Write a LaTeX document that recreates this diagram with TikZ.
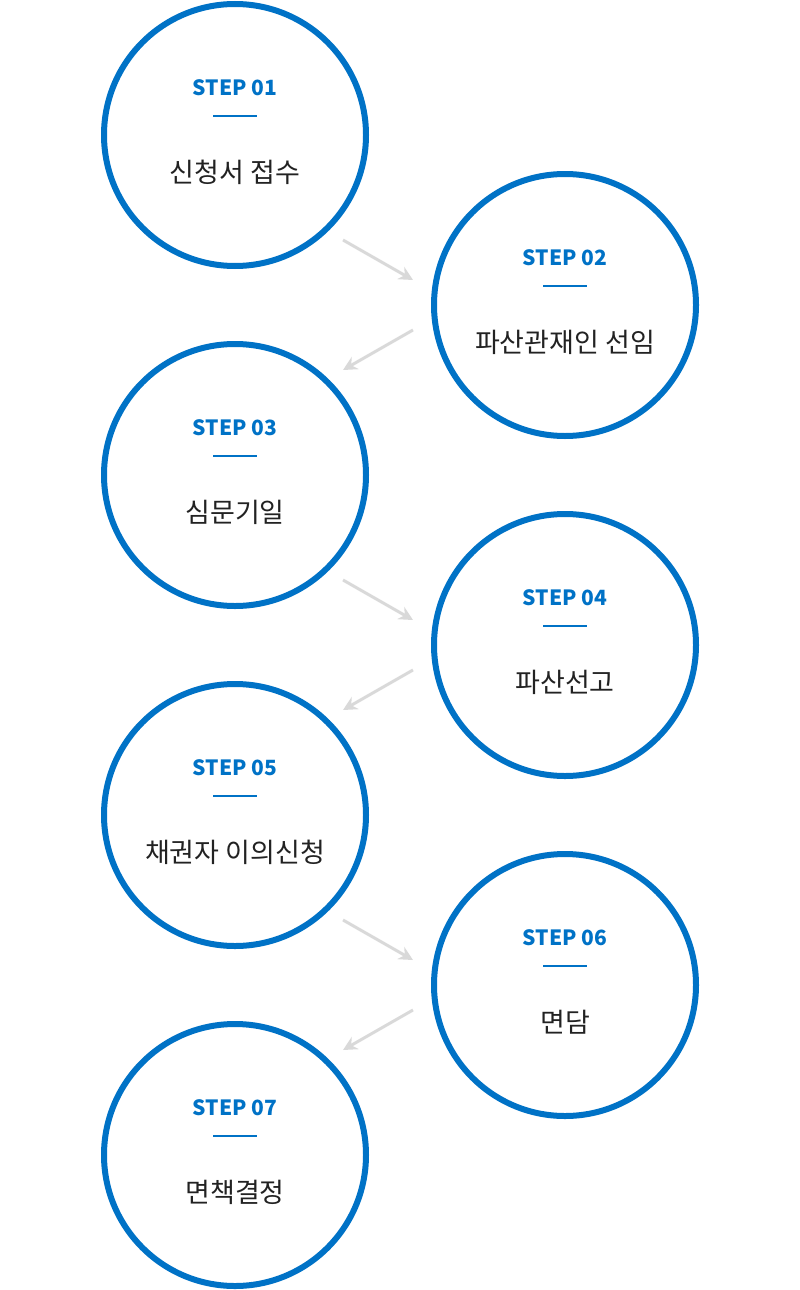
\documentclass[tikz,border=0pt]{standalone}
\usepackage{fontspec}
\setmainfont{Noto Sans CJK KR}
\newfontfamily\stepfont{Noto Sans CJK KR}
\usetikzlibrary{arrows.meta}
\definecolor{stepblue}{HTML}{0072C6}
\definecolor{arrowgray}{HTML}{D9D9D9}
\definecolor{txtdark}{HTML}{222222}
\begin{document}
\begin{tikzpicture}[x=1pt,y=-1pt,
  ring/.style={circle,draw=stepblue,line width=6pt,minimum size=262pt,inner sep=0pt},
  steplbl/.style={text=stepblue,font=\fontsize{21}{21}\selectfont\bfseries},
  title/.style={text=txtdark,font=\fontsize{27}{27}\selectfont},
  flow/.style={draw=arrowgray,line width=3pt,-{Stealth[length=14pt,width=14pt]}}]
\useasboundingbox (0,0) rectangle (800,1290);
\foreach \i/\x/\y/\t in {1/235/135/신청서 접수,2/565/305/파산관재인 선임,3/235/475/심문기일,4/565/645/파산선고,5/235/815/채권자 이의신청,6/565/985/면담,7/235/1155/면책결정}{
  \node[ring] (c\i) at (\x,\y) {};
  \node[steplbl] (s\i) at (\x,\y-47) {STEP 0\i};
  \draw[stepblue,line width=1.5pt] (\x-22,\y-19) -- (\x+22,\y-19);
  \node[title] (t\i) at (\x,\y+37) {\t};
}
\foreach \a/\b/\y in {1/2/240,3/4/580,5/6/920}{
  \coordinate (p\a) at (343,\y); \coordinate (q\a) at (413,\y+40);
  \draw[flow] (p\a) -- (q\a);
}
\foreach \a/\y in {2/330,4/670,6/1010}{
  \coordinate (p\a) at (413,\y); \coordinate (q\a) at (343,\y+40);
  \draw[flow] (p\a) -- (q\a);
}
\end{tikzpicture}
\end{document}
